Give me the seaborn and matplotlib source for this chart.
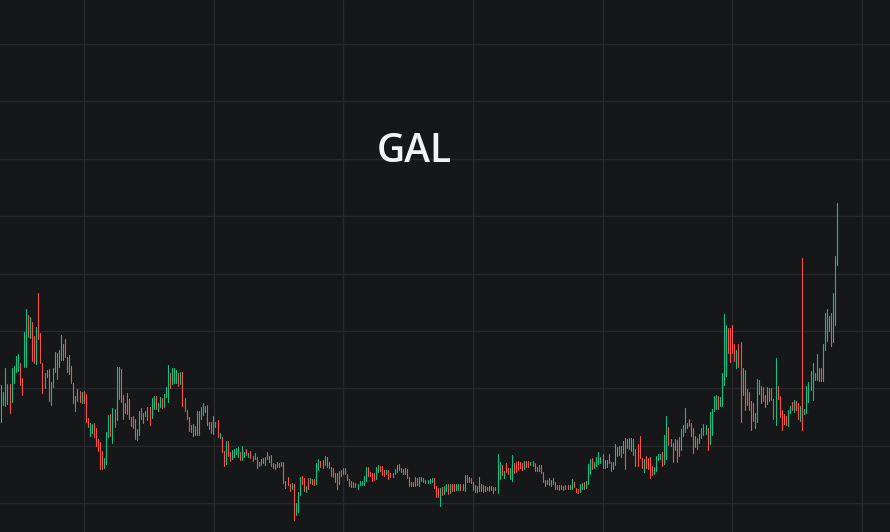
import numpy as np
import pandas as pd
import matplotlib
matplotlib.use("Agg")
import matplotlib.pyplot as plt
import seaborn as sns

symbol = "GAL"

# bar highs / lows in US cents, left to right
high_cents = [
    175.0, 168.3, 192.0, 176.0, 176.0, 192.0, 194.0, 204.0, 206.0, 197.0,
    182.0, 228.3, 251.0, 245.0, 243.0, 238.3, 223.7, 233.3, 267.0, 227.3,
    196.7, 187.3, 190.0, 191.0, 178.0, 192.0, 208.0, 207.0, 210.0, 225.0,
    216.3, 220.7, 203.0, 205.0, 194.0, 177.3, 164.3, 171.3, 169.0, 168.0,
    169.0, 166.0, 142.3, 136.7, 136.0, 136.7, 132.0, 121.3, 118.0, 109.0,
    102.3, 128.0, 145.0, 146.0, 152.0, 151.0, 193.3, 193.0, 191.0, 165.0,
    157.3, 167.0, 161.0, 143.3, 144.3, 141.0, 131.0, 149.3, 152.0, 147.3,
    149.3, 153.3, 153.0, 162.3, 163.7, 164.0, 157.3, 163.0, 162.3, 165.7,
    173.0, 195.0, 187.0, 192.0, 192.0, 190.0, 187.3, 187.7, 188.0, 162.0,
    150.0, 143.3, 135.3, 136.0, 134.0, 149.0, 149.0, 153.3, 157.0, 154.0,
    155.3, 137.7, 138.3, 144.3, 138.0, 140.0, 127.0, 123.3, 109.0, 119.0,
    119.0, 108.0, 110.0, 111.0, 111.7, 112.7, 107.7, 114.0, 108.3, 111.0,
    107.3, 109.3, 104.3, 107.0, 103.3, 98.3, 100.7, 102.0, 103.3, 108.0,
    104.0, 104.7, 97.0, 96.3, 98.3, 97.3, 98.3, 98.3, 79.0, 83.0,
    76.3, 76.7, 76.0, 57.0, 68.0, 83.0, 84.0, 81.7, 74.0, 82.0, 82.0,
    81.0, 81.0, 97.0, 101.0, 99.3, 100.0, 104.0, 103.3, 98.0, 93.0,
    92.0, 87.0, 87.0, 89.0, 90.0, 92.3, 91.7, 86.0, 80.7, 79.3,
    78.0, 77.3, 76.0, 78.7, 79.3, 84.3, 93.0, 93.0, 88.0, 87.0,
    87.0, 93.0, 95.0, 94.3, 94.3, 90.0, 90.0, 90.0, 87.0, 87.0,
    91.0, 95.0, 96.0, 92.0, 91.0, 92.0, 91.0, 83.0, 78.0, 78.0,
    83.0, 82.0, 83.0, 83.0, 82.0, 80.3, 80.3, 81.0, 82.3, 82.0,
    74.3, 72.0, 72.0, 73.0, 74.0, 76.0, 76.0, 76.0, 76.0, 76.0,
    76.0, 76.0, 76.0, 76.0, 85.0, 85.0, 83.0, 82.0, 78.0, 75.0,
    74.0, 83.0, 76.0, 75.0, 74.0, 73.0, 74.0, 74.0, 73.0, 73.0,
    106.0, 98.0, 95.0, 89.0, 97.0, 92.0, 92.0, 105.0, 97.0, 98.0,
    99.0, 98.3, 97.0, 99.0, 99.0, 99.0, 98.0, 99.0, 97.0, 93.0,
    95.0, 95.0, 88.0, 80.0, 80.0, 82.0, 80.0, 82.0, 78.0, 75.0,
    75.0, 75.0, 74.0, 75.0, 75.0, 75.0, 81.0, 78.0, 72.3, 71.3,
    76.0, 77.3, 78.3, 79.0, 96.0, 101.0, 102.0, 98.3, 103.0, 108.0,
    103.0, 105.7, 100.0, 100.0, 106.0, 98.3, 98.0, 116.0, 113.0, 114.0,
    114.0, 119.0, 121.7, 121.0, 122.0, 122.3, 120.7, 111.0, 116.0, 124.0,
    102.0, 100.7, 104.3, 102.0, 103.0, 94.3, 93.0, 104.0, 106.0, 106.0,
    108.0, 125.0, 144.0, 133.0, 121.0, 117.0, 121.0, 120.0, 123.0, 131.0,
    135.0, 152.0, 137.0, 141.0, 137.0, 132.0, 124.0, 122.0, 126.0, 132.0,
    136.0, 135.0, 132.0, 148.0, 151.0, 164.0, 165.0, 164.0, 163.0, 187.0,
    246.0, 235.0, 232.0, 232.0, 235.0, 216.0, 210.0, 216.0, 218.0, 192.0,
    190.0, 171.0, 168.0, 159.0, 157.0, 147.0, 181.0, 180.0, 174.0, 173.0,
    165.0, 173.0, 172.0, 172.0, 161.0, 202.0, 174.0, 164.0, 150.0, 146.0,
    144.0, 150.0, 154.0, 158.0, 160.0, 159.0, 157.0, 154.0, 302.0, 151.0,
    174.0, 178.0, 189.0, 197.0, 187.0, 206.0, 192.0, 192.0, 216.0, 247.0,
    251.0, 244.0, 247.0, 267.0, 304.0, 357.0,
]

low_cents = [
    138.3, 155.0, 154.0, 156.0, 147.3, 158.3, 177.3, 188.3, 189.3, 175.3,
    165.3, 192.7, 192.7, 222.7, 222.0, 199.0, 197.3, 196.3, 221.3, 196.7,
    166.7, 172.0, 182.7, 159.3, 155.3, 173.3, 188.3, 181.3, 193.3, 200.0,
    199.7, 202.7, 188.3, 186.0, 176.7, 157.3, 149.3, 158.7, 158.3, 157.3,
    156.7, 138.3, 132.7, 124.3, 127.0, 123.3, 114.3, 109.3, 91.3, 91.3,
    91.7, 96.3, 123.3, 124.3, 117.3, 133.3, 140.0, 161.3, 158.3, 141.3,
    147.3, 145.7, 141.0, 134.3, 132.3, 121.3, 120.3, 125.0, 140.7, 137.3,
    144.0, 140.0, 135.3, 142.0, 151.0, 150.7, 149.3, 153.0, 152.3, 153.3,
    163.0, 158.3, 172.3, 176.3, 176.7, 176.7, 174.3, 175.7, 154.0, 149.3,
    140.7, 129.3, 127.7, 124.3, 125.0, 125.3, 125.3, 141.3, 145.3, 148.3,
    135.3, 131.0, 126.7, 126.0, 133.0, 123.3, 122.0, 108.3, 94.3, 96.3,
    104.3, 99.3, 101.3, 102.7, 106.0, 102.7, 100.3, 100.3, 103.0, 105.0,
    102.7, 102.0, 99.3, 100.7, 92.3, 93.7, 95.3, 97.3, 95.3, 100.7,
    98.3, 93.7, 92.0, 91.3, 93.3, 92.7, 94.0, 77.3, 72.0, 75.0,
    69.0, 71.0, 40.0, 45.0, 48.0, 65.0, 76.0, 69.0, 68.0, 70.7, 77.0,
    76.0, 75.0, 75.7, 90.0, 93.0, 92.3, 95.0, 93.0, 92.3, 84.0,
    83.0, 78.0, 71.0, 76.0, 84.0, 86.0, 86.0, 80.0, 74.0, 73.0,
    73.0, 73.0, 70.7, 75.0, 75.0, 75.3, 79.3, 84.3, 84.0, 79.3,
    80.3, 81.0, 88.0, 89.3, 85.0, 84.0, 86.0, 81.0, 83.0, 83.0,
    86.3, 88.0, 90.0, 88.0, 86.3, 86.0, 82.3, 74.3, 74.0, 74.0,
    74.3, 75.0, 74.3, 79.0, 78.0, 77.3, 77.3, 77.3, 78.0, 72.3,
    63.0, 63.0, 54.0, 65.0, 66.0, 69.3, 66.0, 67.0, 69.0, 69.0,
    70.0, 70.0, 70.0, 70.0, 69.0, 78.0, 78.0, 77.0, 70.0, 68.3,
    68.3, 69.0, 69.0, 68.0, 69.0, 70.0, 69.0, 70.0, 67.0, 70.0,
    67.0, 81.0, 85.0, 82.0, 88.0, 86.0, 81.0, 79.0, 87.0, 88.0,
    90.0, 92.0, 90.0, 91.0, 93.0, 93.0, 95.0, 94.0, 89.0, 89.0,
    89.0, 87.0, 78.0, 74.0, 76.0, 75.0, 74.0, 76.0, 71.0, 71.0,
    70.0, 71.0, 70.0, 71.0, 71.0, 71.0, 71.0, 73.0, 67.7, 66.7,
    68.3, 70.7, 71.3, 72.3, 75.7, 86.0, 91.0, 92.3, 94.0, 96.0,
    97.0, 92.0, 92.0, 92.7, 97.0, 89.3, 91.0, 95.0, 104.0, 105.0,
    103.0, 106.7, 91.3, 112.0, 111.3, 109.3, 105.0, 93.7, 94.0, 101.7,
    92.3, 88.3, 91.7, 91.0, 82.0, 85.0, 86.0, 89.0, 100.0, 100.7,
    94.0, 96.0, 101.0, 115.0, 114.0, 98.0, 110.0, 98.0, 104.0, 110.0,
    124.0, 128.0, 132.0, 134.0, 124.0, 107.3, 113.0, 111.0, 117.0, 122.0,
    125.0, 126.0, 110.0, 116.0, 125.0, 149.0, 151.0, 151.0, 154.0, 154.0,
    175.0, 184.0, 207.0, 198.0, 207.0, 199.0, 192.0, 193.0, 138.0, 165.0,
    150.0, 155.0, 150.0, 130.0, 139.0, 132.0, 138.0, 166.0, 157.3, 159.0,
    153.0, 156.0, 159.0, 160.0, 141.0, 135.0, 161.0, 143.0, 130.0, 136.0,
    135.0, 134.0, 147.0, 150.0, 148.0, 150.0, 141.0, 139.0, 130.0, 146.0,
    147.0, 158.0, 170.0, 160.0, 180.0, 180.0, 179.3, 179.0, 179.0, 210.0,
    219.0, 229.0, 214.0, 218.0, 235.0, 295.0,
]

# G = closed up, R = closed down
bar_dir = (
    "GGGGRGGGGR RGGRGRRGRR RGGRGGGRGG RRRGRRGGRG RRRGGRRRRR "
    "GGGRGRGGRR RRRRRRGGRG GRRGGRGGRG GGRGGGRGRR RRRGRGRGGG "
    "RGRGGRGRRG RRGGGGRGGR GRRGRGGRGR GRRGRRGRGR RGRGGGRRGRG "
    "RRGGRGRGRR RRRGRGRRRR RRGGGGGRRR RGGRRRGRRG GGRRGRRRRR "
    "RRGGRGGGGR RRGRGGRGRR GGRGGRRRRG RGRRGRRGRR GGRGRRGGRR "
    "RRRGRRGGRG RRRRGGRGRR RRRGRGGRRR GGRGGGRGGG GRGGRRGGGR "
    "GGRGGGGRRR RGRRRRGGGG RGGRGRGRRG GGRRRRGRGG GGRGGGGRGG "
    "GGRRRRGRRG RRRRRGGGRR RGRRRGRRRR RGGRGRRGRG GGGGGGRRGG "
    "GGRGGG"
).replace(" ", "")

BG = "#161719"
GRID = "#26282b"
UP = "#12bf84"
DOWN = "#f5514f"

n = len(high_cents)
assert n == len(low_cents) == len(bar_dir)

idx = np.arange(n)
bars = pd.DataFrame({
    "bar": np.repeat(idx, 2),
    "price": np.column_stack([low_cents, high_cents]).ravel() / 100.0,
    "dir": np.repeat(list(bar_dir), 2),
})

sns.set_theme(style="dark")
plt.rcParams["font.family"] = ["Open Sans", "DejaVu Sans"]

fig = plt.figure(figsize=(8.9, 5.32), dpi=100, facecolor=BG)
ax = fig.add_axes([0, 0, 1, 1])
ax.set_facecolor(BG)

sns.lineplot(data=bars, x="bar", y="price", hue="dir", units="bar",
             estimator=None, sort=False, palette={"G": UP, "R": DOWN},
             linewidth=0.8, legend=False, ax=ax)

ax.set_xlim(-0.63, 431.6)
ax.set_ylim(0.28, 5.60)
ax.set_xticks(np.arange(40.2, 432, 62.97))
ax.set_yticks(np.arange(0.57, 5.6, 0.5737))
ax.grid(True, color=GRID, linewidth=1.0)
ax.set_axisbelow(True)
ax.tick_params(left=False, bottom=False, labelleft=False, labelbottom=False)
ax.set_xlabel("")
ax.set_ylabel("")
for spine in ax.spines.values():
    spine.set_visible(False)

ax.text(0.466, 0.6955, symbol, transform=ax.transAxes, ha="center",
        va="baseline", fontsize=28, fontweight="semibold", color="#f4f4f4")

fig.savefig("out.png", dpi=100, facecolor=BG)
